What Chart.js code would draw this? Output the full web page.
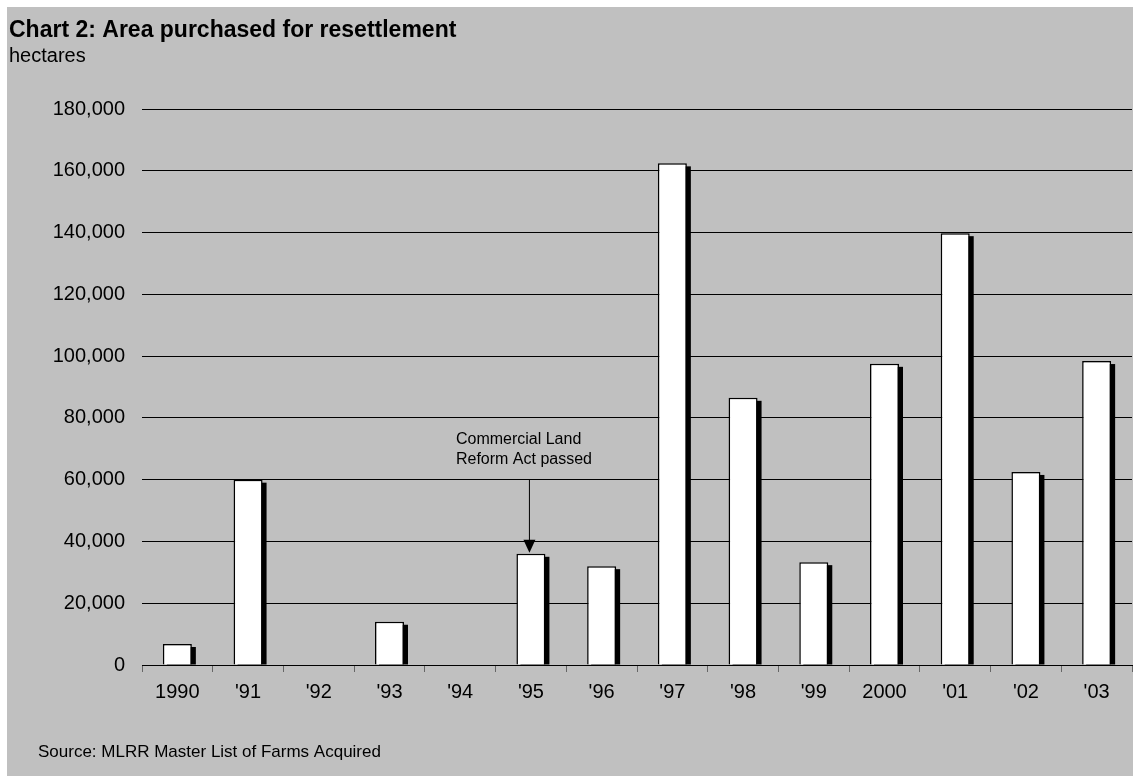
<!DOCTYPE html>
<html>
<head>
<meta charset="utf-8">
<script src="https://cdn.jsdelivr.net/npm/chart.js@4/dist/chart.umd.min.js"></script>
<style>
	body { margin: 0; background: #fff; }
	#wrap { width: 1133px; height: 776px; }
</style>
</head>
<body>
<div id="wrap"><canvas id="myChart" width="1133" height="776"></canvas></div>
<script>
const years = ['1990', "'91", "'92", "'93", "'94", "'95", "'96", "'97", "'98", "'99", '2000', "'01", "'02", "'03"]
const hectares = [6800, 60000, 0, 14000, 0, 36000, 32000, 162400, 86500, 33300, 97500, 139800, 62500, 98400]
const yTicks = [0, 20000, 40000, 60000, 80000, 100000, 120000, 140000, 160000, 180000]

const chartTitle = 'Chart 2: Area purchased for resettlement'
const unitLabel = 'hectares'
const sourceNote = 'Source: MLRR Master List of Farms Acquired'
const noteLines = ['Commercial Land', 'Reform Act passed']
const noteIndex = 5
const noteFrom = 60000

const FONT = '"Liberation Sans", Arial, sans-serif'

// gray panel + texts
const decorPlugin = {
	id: 'decor',
	beforeDraw(chart) {
		const ctx = chart.ctx
		ctx.save()
		ctx.fillStyle = '#c0c0c0'
		ctx.fillRect(7, 7, chart.width - 7, chart.height - 7)
		ctx.fillStyle = '#000'
		ctx.textBaseline = 'alphabetic'
		ctx.font = 'bold 23px ' + FONT
		ctx.fillText(chartTitle, 9, 37)
		ctx.font = '20px ' + FONT
		ctx.fillText(unitLabel, 9, 62)
		ctx.font = '17px ' + FONT
		ctx.fillText(sourceNote, 38, 757)
		ctx.restore()
	},
	// drop shadow behind each bar
	beforeDatasetsDraw(chart) {
		const ctx = chart.ctx
		const meta = chart.getDatasetMeta(0)
		ctx.save()
		ctx.fillStyle = '#000'
		meta.data.forEach((bar, i) => {
			if (!hectares[i]) return
			const p = bar.getProps(['x', 'y', 'base', 'width'], true)
			ctx.fillRect(p.x - p.width / 2 + 4, p.y + 3, p.width, p.base - p.y - 3)
		})
		ctx.restore()
	},
	afterDatasetsDraw(chart) {
		const ctx = chart.ctx
		const xs = chart.scales.x
		const ys = chart.scales.y
		const ax = xs.getPixelForValue(noteIndex) - 2
		const y0 = ys.getPixelForValue(noteFrom)
		const y1 = ys.getPixelForValue(hectares[noteIndex]) - 1
		ctx.save()
		ctx.strokeStyle = '#000'
		ctx.fillStyle = '#000'
		ctx.lineWidth = 1
		ctx.beginPath()
		ctx.moveTo(ax + 0.5, y0)
		ctx.lineTo(ax + 0.5, y1 - 10)
		ctx.stroke()
		ctx.beginPath()
		ctx.moveTo(ax + 0.5, y1)
		ctx.lineTo(ax - 5.5, y1 - 13)
		ctx.lineTo(ax + 6.5, y1 - 13)
		ctx.closePath()
		ctx.fill()
		ctx.font = '16px ' + FONT
		ctx.textBaseline = 'alphabetic'
		ctx.fillText(noteLines[0], ax - 73, y0 - 36)
		ctx.fillText(noteLines[1], ax - 73, y0 - 16)
		ctx.restore()
	}
}

const context = document.getElementById('myChart')
const config = {
	type: 'bar',
	data: {
		labels: years,
		datasets: [{
			data: hectares,
			backgroundColor: '#fff',
			borderColor: '#000',
			borderWidth: 1.5,
			categoryPercentage: 1,
			barPercentage: 0.41
		}]
	},
	options: {
		responsive: false,
		animation: false,
		layout: { padding: { top: 109, left: 7, right: 1, bottom: 0 } },
		plugins: {
			legend: { display: false },
			tooltip: { enabled: false }
		},
		scales: {
			x: {
				offset: true,
				grid: { offset: true, drawOnChartArea: false, drawTicks: true, tickLength: 7, color: '#666' },
				border: { color: '#000', width: 1 },
				ticks: { color: '#000', font: { family: FONT, size: 20 }, padding: 8, maxRotation: 0, autoSkip: false },
				afterFit: s => { s.height = 111 }
			},
			y: {
				min: 0,
				max: 180000,
				afterBuildTicks: s => { s.ticks = yTicks.map(v => ({ value: v })) },
				grid: { color: '#000', drawTicks: false },
				border: { display: false },
				ticks: {
					color: '#000',
					font: { family: FONT, size: 20 },
					padding: 17,
					callback: v => v.toLocaleString('en-US')
				},
				afterFit: s => { s.width = 135 }
			}
		}
	},
	plugins: [decorPlugin]
}
const myChart = new Chart(context, config)
</script>
</body>
</html>
